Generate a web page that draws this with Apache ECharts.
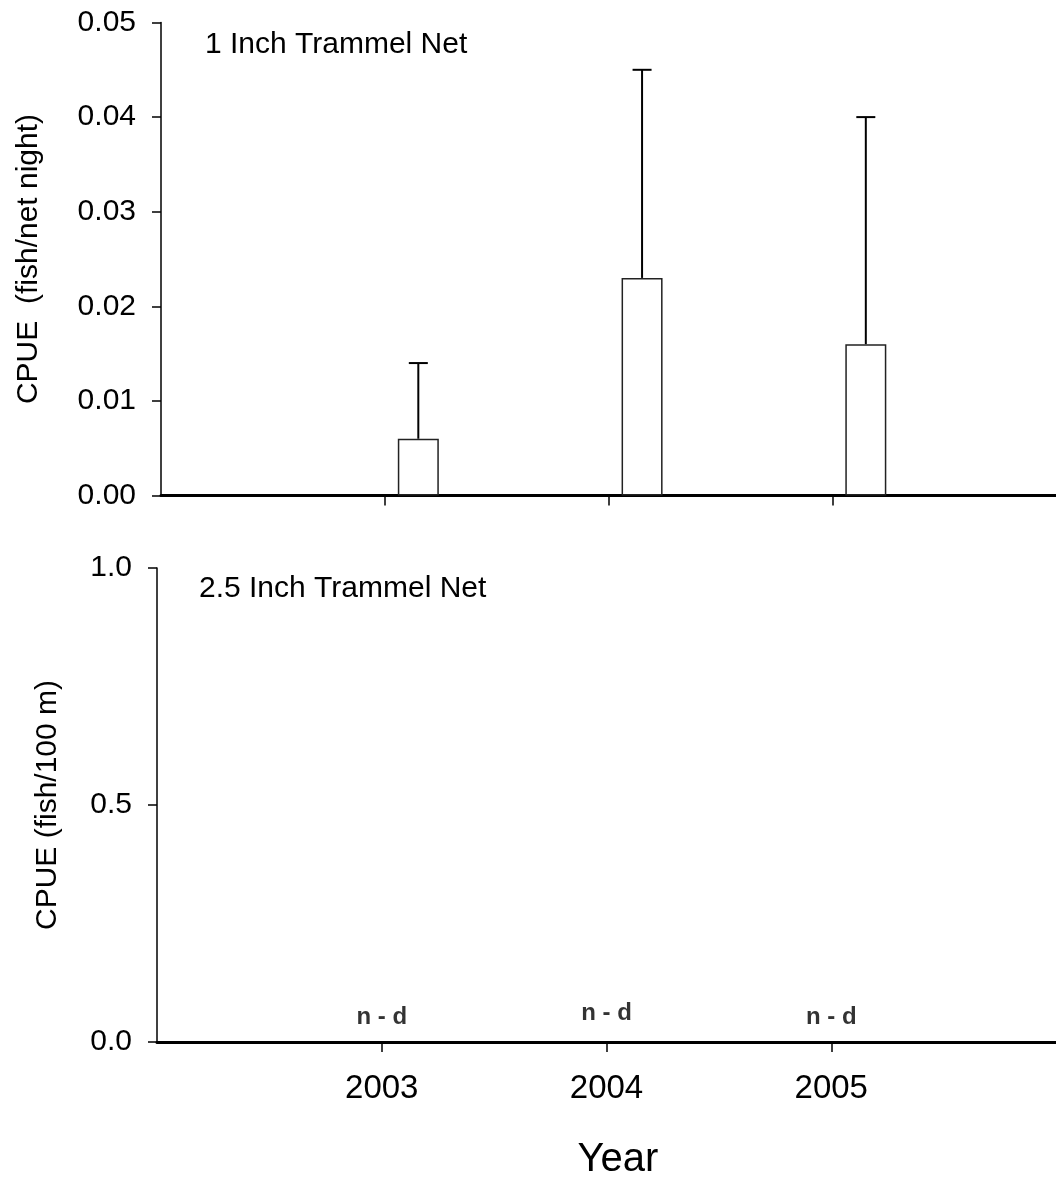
<!DOCTYPE html>
<html>
<head>
<meta charset="utf-8">
<title>CPUE by year</title>
<script src="https://cdn.jsdelivr.net/npm/echarts@6/dist/echarts.min.js"></script>
<style>
  html, body { margin: 0; padding: 0; background: #fff; }
  #chart { width: 1056px; height: 1177px; }
</style>
</head>
<body>
<div id="chart"></div>
<script>
// Sampling years
const years = [2003, 2004, 2005];

// 1 inch trammel net: mean CPUE and upper error bound (fish/net night)
const meanCpue1in = [0.006, 0.023, 0.016];
const upperCpue1in = [0.014, 0.045, 0.040];

// 2.5 inch trammel net: no fish detected in any year
const noDetectLabels = ['n - d', 'n - d', 'n - d'];

// Axis ticks
const topYTicks = [0, 0.01, 0.02, 0.03, 0.04, 0.05];
const bottomYTicks = [0, 0.5, 1.0];

// Bars sit a little to the right of the year tick
const BAR_SHIFT = 0.15;
const X_MIN = 2002;
const X_MAX = 2006;
const FONT = '"Liberation Sans", Arial, Helvetica, sans-serif';

const barData = years.map((y, i) => [y + BAR_SHIFT, meanCpue1in[i]]);
const errData = years.map((y, i) => [y + BAR_SHIFT, meanCpue1in[i], upperCpue1in[i]]);
const ndData = years.map((y, i) => ({ value: [y, 0], label: { formatter: noDetectLabels[i], offset: [0, i === 1 ? -4 : 0] } }));

const chart = echarts.init(document.getElementById('chart'), null, { renderer: 'canvas' });

function xAxisBase(gridIndex, showLabels) {
  return {
    type: 'value', gridIndex, min: X_MIN, max: X_MAX,
    splitLine: { show: false },
    axisLine: { show: true, onZero: false, lineStyle: { color: '#000', width: 3 } },
    axisTick: { show: true, inside: false, length: 10, customValues: years, lineStyle: { color: '#000', width: 1.5 } },
    axisLabel: {
      show: showLabels, customValues: years, margin: 30,
      color: '#000', fontSize: 33, fontFamily: FONT,
      formatter: v => String(v)
    }
  };
}

function yAxisBase(gridIndex, min, max, ticks, digits, name, nameGap) {
  return {
    type: 'value', gridIndex, min, max,
    splitLine: { show: false },
    axisLine: { show: true, lineStyle: { color: '#000', width: 1.5 } },
    axisTick: { show: true, length: 9, customValues: ticks, lineStyle: { color: '#000', width: 1.5 } },
    axisLabel: {
      customValues: ticks, margin: 25, color: '#000', fontSize: 30, fontFamily: FONT,
      formatter: v => Number(v).toFixed(digits)
    },
    name, nameLocation: 'middle', nameGap, nameRotate: 90,
    nameTextStyle: { color: '#000', fontSize: 30, fontFamily: FONT }
  };
}

const option = {
  backgroundColor: '#fff',
  animation: false,
  title: [
    { text: '1 Inch Trammel Net', left: 200, top: 25, textStyle: { color: '#000', fontSize: 30, fontWeight: 'normal', fontFamily: FONT } },
    { text: '2.5 Inch Trammel Net', left: 194, top: 569, textStyle: { color: '#000', fontSize: 30, fontWeight: 'normal', fontFamily: FONT } },
    { text: 'Year', left: 613, top: 1135, textAlign: 'center', textStyle: { color: '#000', fontSize: 40, fontWeight: 'normal', fontFamily: FONT } }
  ],
  grid: [
    { left: 161, top: 22.5, width: 903, height: 473 },
    { left: 157, top: 568, width: 902, height: 474 }
  ],
  xAxis: [xAxisBase(0, false), xAxisBase(1, true)],
  yAxis: [
    yAxisBase(0, 0, 0.05, topYTicks, 2, 'CPUE  (fish/net night)', 117),
    yAxisBase(1, 0, 1.0, bottomYTicks, 1, 'CPUE (fish/100 m)', 94)
  ],
  series: [
    {
      type: 'bar', xAxisIndex: 0, yAxisIndex: 0, data: barData, barWidth: 41,
      itemStyle: { color: '#fff', borderColor: '#222', borderWidth: 1.5 }
    },
    {
      type: 'custom', xAxisIndex: 0, yAxisIndex: 0, data: errData, z: 3,
      renderItem: function (params, api) {
        const base = api.coord([api.value(0), api.value(1)]);
        const top = api.coord([api.value(0), api.value(2)]);
        const half = 9.5;
        const style = { stroke: '#000', lineWidth: 2 };
        return {
          type: 'group',
          children: [
            { type: 'line', shape: { x1: base[0], y1: base[1], x2: top[0], y2: top[1] }, style },
            { type: 'line', shape: { x1: top[0] - half, y1: top[1], x2: top[0] + half, y2: top[1] }, style }
          ]
        };
      }
    },
    {
      type: 'scatter', xAxisIndex: 1, yAxisIndex: 1, data: ndData, symbolSize: 0,
      label: {
        show: true, position: 'top', distance: 13,
        color: '#000', fontSize: 24, fontWeight: 'bold', fontFamily: FONT
      }
    }
  ]
};

chart.setOption(option);
</script>
</body>
</html>
